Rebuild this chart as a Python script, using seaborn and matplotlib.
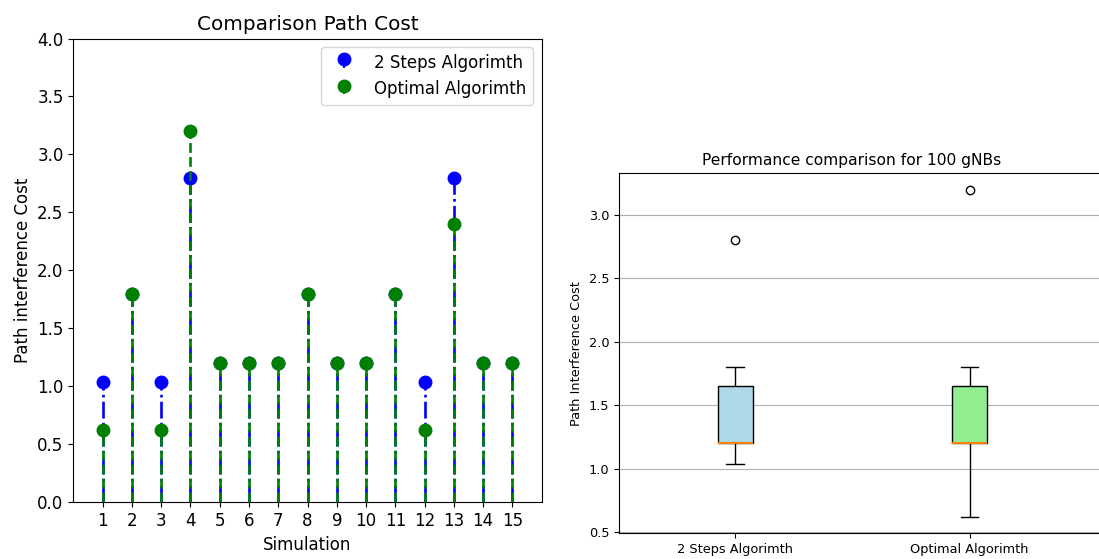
import matplotlib
matplotlib.use("Agg")
import matplotlib.pyplot as plt
import seaborn as sns
import numpy as np
import pandas as pd

# ---- data ----
simulations = list(range(1, 16))
two_steps = [1.04, 1.8, 1.04, 2.8, 1.2, 1.2, 1.2, 1.8, 1.2, 1.2, 1.8, 1.04, 2.8, 1.2, 1.2]
optimal = [0.62, 1.8, 0.62, 3.2, 1.2, 1.2, 1.2, 1.8, 1.2, 1.2, 1.8, 0.62, 2.4, 1.2, 1.2]

box_two_steps = [1.04, 1.04, 1.04, 1.2, 1.2, 1.2, 1.2, 1.2, 1.2, 1.2, 1.8, 1.8, 1.8, 2.8]
box_optimal = [0.62, 0.62, 0.62, 1.2, 1.2, 1.2, 1.2, 1.2, 1.2, 1.2, 1.8, 1.8, 1.8, 3.2]
algorithms = ["2 Steps Algorimth", "Optimal Algorimth"]

plt.rcParams['font.family'] = ['DejaVu Sans']

fig = plt.figure(figsize=(10.99, 5.59), dpi=100)

# ---- left: stem chart ----
ax1 = fig.add_axes([0.0667, 0.1014, 0.4262, 0.8297])
s1 = ax1.stem(simulations, two_steps, linefmt='b-.', markerfmt='bo', basefmt=' ',
              label=algorithms[0])
s2 = ax1.stem(simulations, optimal, linefmt='g--', markerfmt='go', basefmt=' ',
              label=algorithms[1])
for s in (s1, s2):
    s.markerline.set_markersize(9)
    s.stemlines.set_linewidth(1.9)
ax1.set_xlim(0, 16)
ax1.set_ylim(0, 4)
ax1.set_xticks(simulations)
ax1.set_yticks(np.arange(0, 4.01, 0.5))
ax1.tick_params(labelsize=12)
ax1.set_xlabel("Simulation", fontsize=12)
ax1.set_ylabel("Path interference Cost", fontsize=12)
ax1.set_title("Comparison Path Cost", fontsize=14.4)
ax1.legend(loc='upper right', fontsize=12)

# ---- right: box plot ----
df = pd.DataFrame({
    "Algorithm": [algorithms[0]] * len(box_two_steps) + [algorithms[1]] * len(box_optimal),
    "Cost": box_two_steps + box_optimal,
})
ax2 = fig.add_axes([0.5632, 0.046, 0.442, 0.644])
sns.boxplot(data=df, x="Algorithm", y="Cost", hue="Algorithm",
            palette=["lightblue", "lightgreen"], saturation=1, width=0.15, ax=ax2,
            linecolor="black", linewidth=1.0, legend=False,
            medianprops=dict(color="#ff7f0e", linewidth=1.5),
            flierprops=dict(marker='o', markerfacecolor='none',
                            markeredgecolor='black', markersize=6))
ax2.set_xlim(-0.496, 1.577)
ax2.yaxis.grid(True, color='#b0b0b0', linewidth=0.8)
ax2.set_axisbelow(True)
ax2.set_xlabel("")
ax2.set_ylabel("Path Interference Cost", fontsize=9.3)
ax2.tick_params(labelsize=9.3)
ax2.set_title("Performance comparison for 100 gNBs", fontsize=11.2, x=0.48)

fig.savefig("out.png", dpi=100)
